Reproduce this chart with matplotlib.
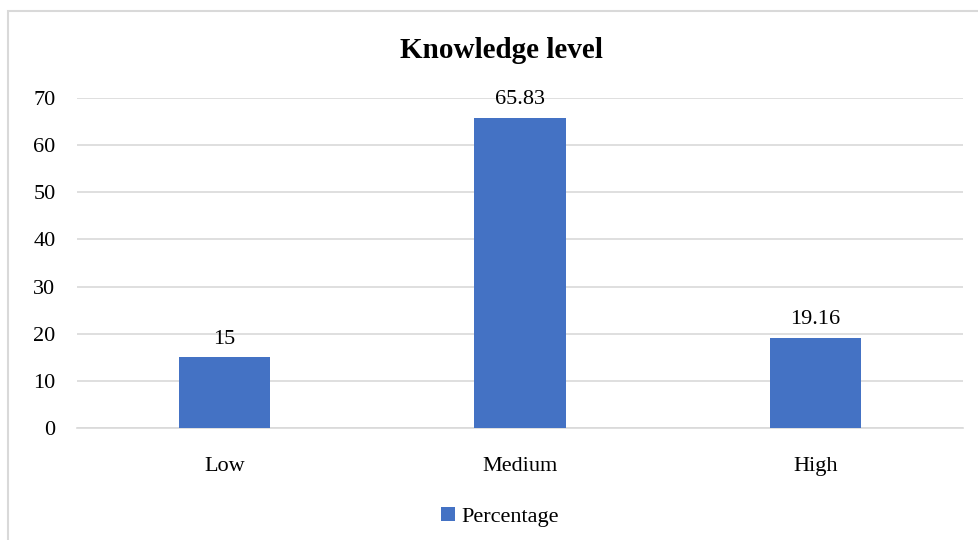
import matplotlib
matplotlib.use("Agg")
import matplotlib.pyplot as plt
from matplotlib.patches import Rectangle

categories = ["Low", "Medium", "High"]
values = [15, 65.83, 19.16]
labels = ["15", "65.83", "19.16"]
yticks = [0, 10, 20, 30, 40, 50, 60, 70]
series_name = "Percentage"

plt.rcParams['font.family'] = ['Liberation Serif', 'DejaVu Serif']

W, H = 979, 540
fig = plt.figure(figsize=(W/100, H/100), dpi=100)
ax = fig.add_axes([77/W, (H-428)/H, (963-77)/W, (428-98)/H])

x = list(range(len(categories)))
bars = ax.bar(x, values, width=0.31, color="#4472C4", label=series_name, zorder=3)
ax.set_xlim(-0.5, len(categories)-0.5)
ax.set_ylim(0, 70)
ax.set_yticks(yticks)
ax.set_yticklabels([str(t) for t in yticks])
ax.set_xticks(x)
ax.set_xticklabels(categories)
ax.grid(axis='y', color="#d9d9d9", linewidth=1.2, zorder=0)
ax.tick_params(axis='both', length=0, labelsize=16, colors="#000000")
ax.tick_params(axis='x', pad=21)
ax.tick_params(axis='y', pad=15.5)
for s in ['top', 'right', 'left']:
    ax.spines[s].set_visible(False)
ax.spines['bottom'].set_color("#d9d9d9")
ax.spines['bottom'].set_linewidth(1.2)

for b, lab in zip(bars, labels):
    ax.annotate(lab, (b.get_x()+b.get_width()/2, b.get_height()), xytext=(0, 6),
                textcoords='offset points', ha='center', va='bottom', fontsize=16, zorder=4)

fig.text(501/W, 1-50/H, "Knowledge level", ha='center', va='center', fontsize=21, fontweight='bold')

leg = fig.legend(handles=[bars], labels=[series_name], loc='center', bbox_to_anchor=(500/W, 1-517/H),
                 frameon=False, fontsize=16, handlelength=0.6, handleheight=0.6, handletextpad=0.3)

fig.patches.append(Rectangle((8/W, -0.1), 1.2, 1-11/H+0.1, transform=fig.transFigure,
                             fill=False, edgecolor="#d9d9d9", linewidth=1.5))

fig.savefig("out.png", dpi=100)
